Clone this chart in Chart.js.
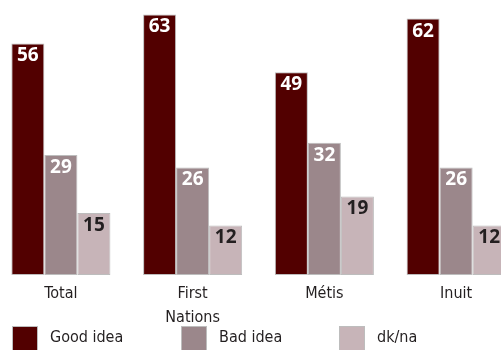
<!DOCTYPE html>
<html>
<head>
<meta charset="utf-8">
<script src="https://cdn.jsdelivr.net/npm/chart.js@4/dist/chart.umd.min.js"></script>
<style>
    html, body { margin: 0; padding: 0; background: #fff; overflow: hidden; }
    body { width: 501px; height: 350px; position: relative; }
    #wrap { position: absolute; left: -5px; top: 0; width: 527px; height: 350px; }
</style>
</head>
<body>
<div id="wrap"><canvas id="chart"></canvas></div>
<script>
const groups = [['Total'], ['First', 'Nations'], ['Métis'], ['Inuit']];
const seriesNames = ['Good idea', 'Bad idea', 'dk/na'];
const goodIdea = [56, 63, 49, 62];
const badIdea = [29, 26, 32, 26];
const dkNa = [15, 12, 19, 12];

const barColors = ['#520000', '#9b878b', '#c7b4b8'];
const valueColors = ['#ffffff', '#ffffff', '#231f20'];
const edgeColor = '#bdbdbd';
const narrowFont = '"Liberation Sans Narrow", "DejaVu Sans Condensed", sans-serif';

// values printed at the top of every bar
const valueLabels = {
    id: 'valueLabels',
    afterDatasetsDraw(chart) {
        const ctx = chart.ctx;
        ctx.save();
        ctx.font = 'bold 19px "Open Sans", sans-serif';
        ctx.textAlign = 'center';
        ctx.textBaseline = 'top';
        chart.data.datasets.forEach((ds, i) => {
            ctx.fillStyle = valueColors[i];
            chart.getDatasetMeta(i).data.forEach((bar, j) => {
                ctx.fillText(ds.data[j], bar.x, bar.y + 3);
            });
        });
        ctx.restore();
    }
};

// legend row along the bottom edge
const legendRow = {
    id: 'legendRow',
    afterDraw(chart) {
        const ctx = chart.ctx;
        const slots = [17, 186, 344];
        ctx.save();
        ctx.font = '16px ' + narrowFont;
        ctx.textBaseline = 'middle';
        chart.data.datasets.forEach((ds, i) => {
            const x = slots[i];
            ctx.fillStyle = ds.backgroundColor;
            ctx.fillRect(x, 326, 26, 26);
            ctx.strokeStyle = edgeColor;
            ctx.lineWidth = 1;
            ctx.strokeRect(x + 0.5, 326.5, 25, 25);
            ctx.fillStyle = '#231f20';
            ctx.fillText(ds.label, x + 38, 338);
        });
        ctx.restore();
    }
};

const seriesData = [goodIdea, badIdea, dkNa];

new Chart(document.getElementById('chart'), {
    type: 'bar',
    data: {
        labels: groups,
        datasets: seriesNames.map((name, i) => ({
            label: name,
            data: seriesData[i],
            backgroundColor: barColors[i],
            borderColor: edgeColor,
            borderWidth: 1,
            borderSkipped: false,
            categoryPercentage: 0.752,
            barPercentage: 1
        }))
    },
    options: {
        responsive: true,
        maintainAspectRatio: false,
        animation: false,
        layout: { padding: { top: 0, bottom: 13, left: 0, right: 0 } },
        plugins: {
            legend: { display: false },
            tooltip: { enabled: false }
        },
        scales: {
            x: {
                grid: { display: false, drawTicks: false },
                border: { display: false },
                ticks: {
                    color: '#231f20',
                    padding: 7,
                    maxRotation: 0,
                    autoSkip: false,
                    font: { family: narrowFont, size: 16, lineHeight: 1.5 }
                }
            },
            y: {
                display: false,
                min: 0,
                max: 66.5
            }
        }
    },
    plugins: [valueLabels, legendRow]
});
</script>
</body>
</html>
